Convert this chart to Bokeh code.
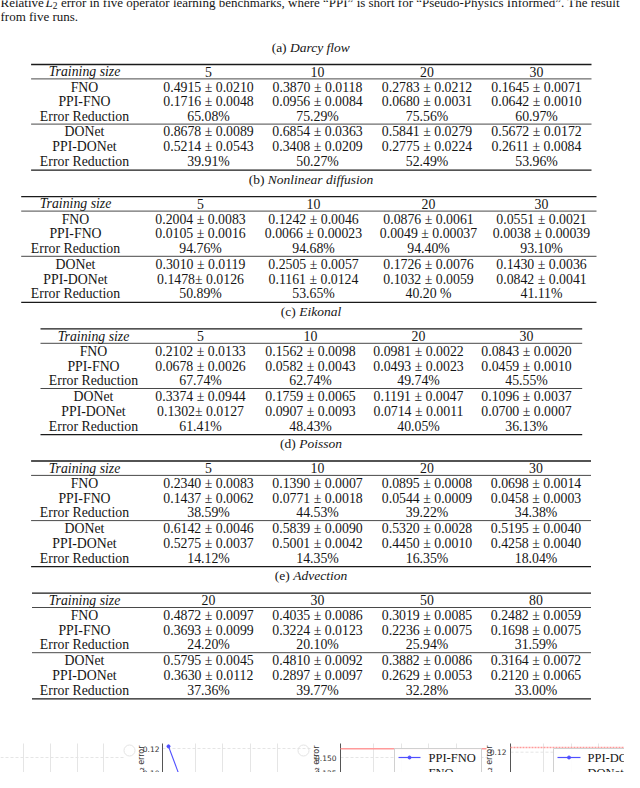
import numpy as np
from bokeh.plotting import figure
from bokeh.models import ColumnDataSource, Range1d
from bokeh.core.properties import value
from bokeh.embed import file_html
from bokeh.resources import INLINE

# ---------------- data ----------------
caption_start = "Relative"
caption_math = "L"
caption_sub = "2"
caption_rest = ("error in five operator learning benchmarks, where \u201cPPI\u201d is short for "
                "\u201cPseudo-Physics Informed\u201d. The result")
caption_line2 = "from five runs."

row_labels = ["FNO", "PPI-FNO", "Error Reduction", "DONet", "PPI-DONet", "Error Reduction"]
header_label = "Training size"

darcy_sizes = ["5", "10", "20", "30"]
darcy_fno = ["0.4915 \u00b1 0.0210", "0.3870 \u00b1 0.0118", "0.2783 \u00b1 0.0212", "0.1645 \u00b1 0.0071"]
darcy_ppi_fno = ["0.1716 \u00b1 0.0048", "0.0956 \u00b1 0.0084", "0.0680 \u00b1 0.0031", "0.0642 \u00b1 0.0010"]
darcy_fno_red = ["65.08%", "75.29%", "75.56%", "60.97%"]
darcy_don = ["0.8678 \u00b1 0.0089", "0.6854 \u00b1 0.0363", "0.5841 \u00b1 0.0279", "0.5672 \u00b1 0.0172"]
darcy_ppi_don = ["0.5214 \u00b1 0.0543", "0.3408 \u00b1 0.0209", "0.2775 \u00b1 0.0224", "0.2611 \u00b1 0.0084"]
darcy_don_red = ["39.91%", "50.27%", "52.49%", "53.96%"]

nl_sizes = ["5", "10", "20", "30"]
nl_fno = ["0.2004 \u00b1 0.0083", "0.1242 \u00b1 0.0046", "0.0876 \u00b1 0.0061", "0.0551 \u00b1 0.0021"]
nl_ppi_fno = ["0.0105 \u00b1 0.0016", "0.0066 \u00b1 0.00023", "0.0049 \u00b1 0.00037", "0.0038 \u00b1 0.00039"]
nl_fno_red = ["94.76%", "94.68%", "94.40%", "93.10%"]
nl_don = ["0.3010 \u00b1 0.0119", "0.2505 \u00b1 0.0057", "0.1726 \u00b1 0.0076", "0.1430 \u00b1 0.0036"]
nl_ppi_don = ["0.1478\u00b1 0.0126", "0.1161 \u00b1 0.0124", "0.1032 \u00b1 0.0059", "0.0842 \u00b1 0.0041"]
nl_don_red = ["50.89%", "53.65%", "40.20 %", "41.11%"]

eik_sizes = ["5", "10", "20", "30"]
eik_fno = ["0.2102 \u00b1 0.0133", "0.1562 \u00b1 0.0098", "0.0981 \u00b1 0.0022", "0.0843 \u00b1 0.0020"]
eik_ppi_fno = ["0.0678 \u00b1 0.0026", "0.0582 \u00b1 0.0043", "0.0493 \u00b1 0.0023", "0.0459 \u00b1 0.0010"]
eik_fno_red = ["67.74%", "62.74%", "49.74%", "45.55%"]
eik_don = ["0.3374 \u00b1 0.0944", "0.1759 \u00b1 0.0065", "0.1191 \u00b1 0.0047", "0.1096 \u00b1 0.0037"]
eik_ppi_don = ["0.1302\u00b1 0.0127", "0.0907 \u00b1 0.0093", "0.0714 \u00b1 0.0011", "0.0700 \u00b1 0.0007"]
eik_don_red = ["61.41%", "48.43%", "40.05%", "36.13%"]

poi_sizes = ["5", "10", "20", "30"]
poi_fno = ["0.2340 \u00b1 0.0083", "0.1390 \u00b1 0.0007", "0.0895 \u00b1 0.0008", "0.0698 \u00b1 0.0014"]
poi_ppi_fno = ["0.1437 \u00b1 0.0062", "0.0771 \u00b1 0.0018", "0.0544 \u00b1 0.0009", "0.0458 \u00b1 0.0003"]
poi_fno_red = ["38.59%", "44.53%", "39.22%", "34.38%"]
poi_don = ["0.6142 \u00b1 0.0046", "0.5839 \u00b1 0.0090", "0.5320 \u00b1 0.0028", "0.5195 \u00b1 0.0040"]
poi_ppi_don = ["0.5275 \u00b1 0.0037", "0.5001 \u00b1 0.0042", "0.4450 \u00b1 0.0010", "0.4258 \u00b1 0.0040"]
poi_don_red = ["14.12%", "14.35%", "16.35%", "18.04%"]

adv_sizes = ["20", "30", "50", "80"]
adv_fno = ["0.4872 \u00b1 0.0097", "0.4035 \u00b1 0.0086", "0.3019 \u00b1 0.0085", "0.2482 \u00b1 0.0059"]
adv_ppi_fno = ["0.3693 \u00b1 0.0099", "0.3224 \u00b1 0.0123", "0.2236 \u00b1 0.0075", "0.1698 \u00b1 0.0075"]
adv_fno_red = ["24.20%", "20.10%", "25.94%", "31.59%"]
adv_don = ["0.5795 \u00b1 0.0045", "0.4810 \u00b1 0.0092", "0.3882 \u00b1 0.0086", "0.3164 \u00b1 0.0072"]
adv_ppi_don = ["0.3630 \u00b1 0.0112", "0.2897 \u00b1 0.0097", "0.2629 \u00b1 0.0053", "0.2120 \u00b1 0.0065"]
adv_don_red = ["37.36%", "39.77%", "32.28%", "33.00%"]

bench_tags = ["(a)", "(b)", "(c)", "(d)", "(e)"]
bench_names = ["Darcy flow", "Nonlinear diffusion", "Eikonal", "Poisson", "Advection"]

# partially visible figure strip below the tables
p2_ticks = [0.10, 0.12]
p2_steps = [0, 1]
p2_ppi = [0.1218, 0.0905]
p3_ticks = [0.100, 0.125, 0.150]
p3_steps = [0]
p3_ppi = [0.105]
p3_fno_level = 0.1645
p4_ticks = [0.10, 0.12]
p4_donet_level = 0.1237
axis_label = "Relative L\u2082 error"
legend3 = ["PPI-FNO", "FNO"]
legend4 = ["PPI-DONet", "DONet"]

# ---------------- layout / style ----------------
SERIF = "Liberation Serif"
SANS = "DejaVu Sans"
SIZE = 13.8
CAP = 13.5
CENTER = 310.5
TABLE_TOPS = [64.0, 196.2, 328.4, 460.5, 592.6]
TABLE_SPANS = [(30.6, 591.0), (20.7, 596.0), (40.0, 581.7), (30.6, 590.5), (31.5, 590.5)]
COL_X = [[84, 208, 317, 426.5, 536],
         [75, 200, 313, 428, 541],
         [93, 200, 310, 418, 526],
         [84, 208, 317, 426.5, 535.5],
         [84, 208, 317, 426.5, 535.5]]
HEAD_OFF = 7.2
ROW_OFF = [22.7, 37.1, 51.7, 67.3, 82.3, 97.1]
RULES_THICK = [0.0, 105.7]
RULES_THIN = [14.4, 59.6]

ROMAN_W = {"(": 333, ")": 333, "a": 444, "b": 500, "c": 444, "d": 500, "e": 444, " ": 250}
ITAL_W = {"D": 722, "a": 500, "r": 389, "c": 444, "y": 444, " ": 250, "f": 278, "l": 278,
          "o": 500, "w": 667, "N": 667, "n": 500, "i": 278, "e": 444, "u": 500, "s": 389,
          "E": 611, "k": 444, "P": 611, "A": 611, "v": 444, "t": 278, "d": 500}


def tw(s, table, size):
    return sum(table.get(ch, 500) for ch in s) / 1000.0 * size


p = figure(width=624, height=772, x_range=Range1d(0, 624), y_range=Range1d(772, 0),
           output_backend="svg", toolbar_location=None, min_border=0)
p.axis.visible = False
p.xgrid.visible = False
p.ygrid.visible = False
p.outline_line_color = None
p.background_fill_color = "white"
p.border_fill_color = "white"


def txt(xs, ys, ts, size, align="center", style="normal", font=SERIF, color="#151515",
        angle=0.0, baseline="middle"):
    src = ColumnDataSource(dict(x=list(xs), y=list(ys), t=list(ts)))
    p.text(x="x", y="y", text="t", source=src, text_font=value(font),
           text_font_size=value(f"{size}px"), text_align=align, text_baseline=baseline,
           text_font_style=style, text_color=color, angle=angle)


def hseg(x0s, x1s, ys, width, color="#1a1a1a", dash="solid"):
    p.segment(x0=list(x0s), y0=list(ys), x1=list(x1s), y1=list(ys),
              line_width=width, line_color=color, line_dash=dash)


def vseg(xs, y0, y1, width, color, dash="solid"):
    p.segment(x0=list(xs), y0=[y0] * len(xs), x1=list(xs), y1=[y1] * len(xs),
              line_width=width, line_color=color, line_dash=dash)


# ---- figure caption (top, cropped like the reference) ----
CAP_Y1 = 2.4
txt([0], [CAP_Y1], [caption_start], 13, align="left")
txt([45], [CAP_Y1], [caption_math], 13, align="left", style="italic")
txt([52.3], [CAP_Y1 + 2.7], [caption_sub], 9.5, align="left")
txt([60.5], [CAP_Y1], [caption_rest], 13, align="left")
txt([0], [16.3], [caption_line2], 13, align="left")

# ---- tables ----
benchmarks = [
    (darcy_sizes, [darcy_fno, darcy_ppi_fno, darcy_fno_red, darcy_don, darcy_ppi_don, darcy_don_red]),
    (nl_sizes, [nl_fno, nl_ppi_fno, nl_fno_red, nl_don, nl_ppi_don, nl_don_red]),
    (eik_sizes, [eik_fno, eik_ppi_fno, eik_fno_red, eik_don, eik_ppi_don, eik_don_red]),
    (poi_sizes, [poi_fno, poi_ppi_fno, poi_fno_red, poi_don, poi_ppi_don, poi_don_red]),
    (adv_sizes, [adv_fno, adv_ppi_fno, adv_fno_red, adv_don, adv_ppi_don, adv_don_red]),
]

for k, (sizes, rows) in enumerate(benchmarks):
    T = TABLE_TOPS[k]
    x0, x1 = TABLE_SPANS[k]
    cx = COL_X[k]
    tag = bench_tags[k] + " "
    name = bench_names[k]
    wt = tw(tag, ROMAN_W, CAP)
    wn = tw(name, ITAL_W, CAP)
    start = CENTER - (wt + wn) / 2
    cy = T - 17.2
    txt([start], [cy], [bench_tags[k]], CAP, align="left")
    txt([start + wt], [cy], [name], CAP, align="left", style="italic")
    hseg([x0] * 2, [x1] * 2, [T + o for o in RULES_THICK], 1.3)
    hseg([x0] * 2, [x1] * 2, [T + o for o in RULES_THIN], 0.8)
    txt([cx[0]], [T + HEAD_OFF], [header_label], SIZE, style="italic")
    txt(cx[1:], [T + HEAD_OFF] * 4, sizes, SIZE)
    xs, ys, ts = [], [], []
    for r, vals in enumerate(rows):
        y = T + ROW_OFF[r]
        xs += [cx[0]] + cx[1:]
        ys += [y] * 5
        ts += [row_labels[r]] + list(vals)
    txt(xs, ys, ts, SIZE)

# ---- partially visible plots below ----
GRID = "#e2e2e2"
SPINE = "#555555"
BLUE = "#4f4fff"
RED = "#ff9a9a"
TOP = 743
BOT = 792

# panel 1 (only grid visible)
vseg([23, 50, 77, 103], TOP, BOT, 0.9, GRID)
hseg([0, 0], [125, 125], [757, 773], 0.9, GRID, "3 2")
p.scatter(x=[129, 303], y=[750, 750], size=11, marker="circle", fill_color="white",
          line_color="#e4e4e4", line_width=1)


def map2(v):
    return 772 - (v - 0.10) * 1200.0


vseg([195, 222, 250, 277], TOP, BOT, 0.9, GRID)
hseg([162] * 2, [310] * 2, [map2(t) for t in p2_ticks], 0.9, GRID, "3 2")
vseg([162], TOP, BOT, 1.0, SPINE)
txt([159] * 2, [map2(t) for t in p2_ticks], [f"{t:.2f}" for t in p2_ticks], 7.5,
    align="right", font=SANS, color="#333333")
txt([141], [745], [axis_label], 8, align="right", font=SANS, color="#333333", angle=np.pi / 2)
p2x = [168 + s * 14 for s in p2_steps]
p2y = [map2(v) for v in p2_ppi]
p.line(p2x, p2y, line_color=BLUE, line_width=1.1)
p.scatter(p2x, p2y, size=3, color=BLUE)


def map3(v):
    return 772 - (v - 0.125) * 600.0


vseg([373, 401, 428, 456], TOP, BOT, 0.9, GRID)
hseg([340] * 2, [486] * 2, [map3(t) for t in p3_ticks[1:]], 0.9, GRID, "3 2")
vseg([340], TOP, BOT, 1.0, SPINE)
txt([336] * 3, [map3(t) for t in p3_ticks], [f"{t:.3f}" for t in p3_ticks], 7.5,
    align="right", font=SANS, color="#333333")
txt([316], [745], [axis_label], 8, align="right", font=SANS, color="#333333", angle=np.pi / 2)
hseg([340], [486], [map3(p3_fno_level)], 1.6, RED)
p3x = [346 + s * 14 for s in p3_steps]
p.scatter(p3x, [map3(v) for v in p3_ppi], size=3, color=BLUE)
p.quad(left=[394], right=[481], top=[748], bottom=[795], fill_color="white", fill_alpha=0.9,
       line_color="#d0d0d0", line_width=1)
hseg([398], [420], [757], 1.2, BLUE)
p.scatter([409], [757], size=3, color=BLUE)
hseg([398], [420], [772.5], 1.6, RED)
txt([428, 428], [757, 772.5], legend3, 12.5, align="left")


def map4(v):
    return 777 - (v - 0.10) * 1265.0


vseg([543, 571, 598, 626], TOP, BOT, 0.9, GRID)
hseg([510] * 2, [640] * 2, [map4(t) for t in p4_ticks], 0.9, GRID, "3 2")
vseg([510], TOP, BOT, 1.0, SPINE)
txt([506] * 2, [map4(t) for t in p4_ticks], [f"{t:.2f}" for t in p4_ticks], 7.5,
    align="right", font=SANS, color="#333333")
txt([489], [745], [axis_label], 8, align="right", font=SANS, color="#333333", angle=np.pi / 2)
hseg([510], [640], [map4(p4_donet_level)], 1.6, RED, "2 1")
p.quad(left=[553], right=[650], top=[748], bottom=[795], fill_color="white", fill_alpha=0.9,
       line_color="#d0d0d0", line_width=1)
hseg([557], [580], [757], 1.2, BLUE)
p.scatter([568.5], [757], size=3, color=BLUE)
hseg([557], [580], [772.5], 1.6, RED, "2 1")
txt([587, 587], [757, 772.5], legend4, 12.5, align="left")

open("out.html", "w").write(file_html(p, INLINE))
